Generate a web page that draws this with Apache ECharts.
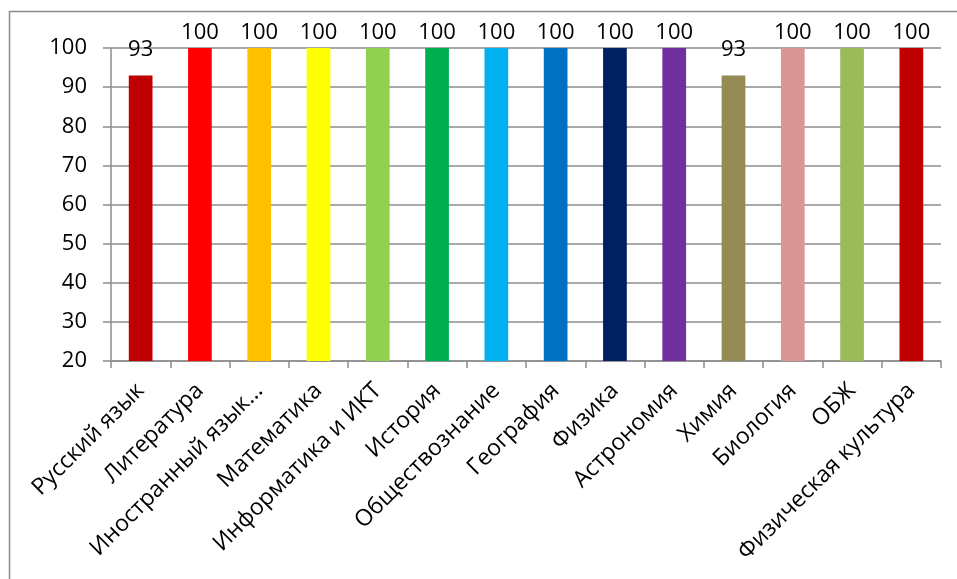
<!DOCTYPE html>
<html><head><meta charset="utf-8">
<script src="https://cdn.jsdelivr.net/npm/echarts@6/dist/echarts.min.js"></script>
<style>html,body{margin:0;padding:0;background:#fff}#c{width:957px;height:579px}</style>
</head><body><div id="c"></div>
<script>
const categories = ['Русский язык','Литература','Иностранный язык...','Математика','Информатика и ИКТ','История','Обществознание','География','Физика','Астрономия','Химия','Биология','ОБЖ','Физическая культура'];
const values = [93,100,100,100,100,100,100,100,100,100,93,100,100,100];
const barColors = ['#C00000','#FF0000','#FFC000','#FFFF00','#92D050','#00B050','#00B0F0','#0070C0','#002060','#7030A0','#948A54','#D99694','#9BBB59','#C00000'];
const yMin = 20, yMax = 100, yStep = 10;

const font = '"Open Sans", "Noto Sans", sans-serif';
const chart = echarts.init(document.getElementById('c'));
chart.setOption({
  animation: false,
  graphic: [{type:'rect', shape:{x:9.5,y:11.5,width:1000,height:1000}, style:{fill:'none',stroke:'#8c8c8c',lineWidth:1.5}, silent:true}],
  grid: {left:111, right:16, top:48, bottom:218, containLabel:false},
  xAxis: {
    type:'category', data: categories,
    axisLine:{show:true, lineStyle:{color:'#8c8c8c', width:1.5}},
    axisTick:{show:true, length:7, alignWithLabel:false, lineStyle:{color:'#8c8c8c', width:1.5}},
    axisLabel:{rotate:45, interval:0, margin:26, color:'#000', fontSize:23, fontFamily:font}
  },
  yAxis: {
    type:'value', min:yMin, max:yMax, interval:yStep,
    axisLine:{show:true, lineStyle:{color:'#8c8c8c', width:1.5}},
    axisTick:{show:true, length:8, lineStyle:{color:'#8c8c8c', width:1.5}},
    splitLine:{show:true, lineStyle:{color:'#8c8c8c', width:1.5}},
    axisLabel:{margin:24, color:'#000', fontSize:22, fontFamily:font}
  },
  series: [{
    type:'bar',
    data: values.map((v,i)=>({value:v, itemStyle:{color:barColors[i]}, label:{distance: v < yMax ? 15 : 4}})),
    barWidth:'40%',
    label:{show:true, position:'top', color:'#000', fontSize:22, fontFamily:font}
  }]
});
</script></body></html>
